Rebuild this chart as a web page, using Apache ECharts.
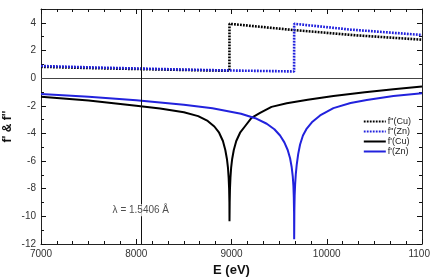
<!DOCTYPE html>
<html>
<head>
<meta charset="utf-8">
<script src="https://cdn.jsdelivr.net/npm/echarts@6/dist/echarts.min.js"></script>
<style>
  html, body { margin: 0; padding: 0; background: #fff; }
  #chart { width: 430px; height: 278px; }
</style>
</head>
<body>
<div id="chart"></div>
<script>
// f'' (absorption) - dotted lines, [E (eV), value]
var fppCu = [[7000, 0.82], [7500, 0.73], [8000, 0.66], [8500, 0.59], [8978, 0.53],
  [8979, 3.93], [9650, 3.48], [10300, 3.1], [11000, 2.78]];
var fppZn = [[7000, 0.88], [7500, 0.78], [8000, 0.7], [8500, 0.62], [9000, 0.55],
  [9500, 0.5], [9657, 0.48], [9658, 3.93], [10250, 3.51], [11000, 3.12]];

// f' (dispersion) - solid lines
var fpCu = [[7000, -1.35], [7500, -1.62], [8000, -2.0], [8250, -2.2], [8500, -2.47],
  [8650, -2.75], [8750, -3.1], [8820, -3.5], [8870, -3.95], [8910, -4.55], [8935, -5.2],
  [8952, -5.85], [8963, -6.5], [8970, -7.2], [8975, -8.0], [8978, -9.0], [8979, -10.35],
  [8981, -9.0], [8984, -8.0], [8989, -7.2], [8996, -6.5], [9007, -5.85], [9024, -5.2],
  [9050, -4.55], [9090, -3.95], [9140, -3.5], [9210, -2.88], [9300, -2.52], [9420, -2.08],
  [9580, -1.82], [9800, -1.56], [10070, -1.3], [10400, -1.02], [10700, -0.8], [11000, -0.6]];
var fpZn = [[7000, -1.15], [7500, -1.35], [8000, -1.6], [8500, -1.92], [8800, -2.18],
  [9100, -2.58], [9250, -2.9], [9370, -3.3], [9450, -3.7], [9510, -4.15], [9555, -4.65],
  [9590, -5.2], [9615, -5.8], [9632, -6.45], [9643, -7.1], [9650, -7.8], [9654, -8.6],
  [9657, -9.8], [9658, -11.65], [9660, -9.6], [9663, -8.5], [9668, -7.7], [9675, -6.95],
  [9685, -6.25], [9700, -5.5], [9720, -4.8], [9750, -4.15], [9790, -3.65], [9850, -3.15],
  [9930, -2.7], [10070, -2.17], [10250, -1.8], [10420, -1.58], [10700, -1.3], [11000, -1.09]];

var legendNames = ['f"(Cu)', 'f"(Zn)', "f'(Cu)", "f'(Zn)"];
var lambdaE = 8048;
var lambdaText = 'λ = 1.5406 Å';

var BLUE = '#2222dd';
var font = 'Liberation Sans, Arial, sans-serif';

var myChart = echarts.init(document.getElementById('chart'));

function lineSeries(name, data, color, dotted) {
  return {
    name: name,
    type: 'line',
    data: data,
    showSymbol: false,
    symbol: 'none',
    smooth: false,
    xAxisIndex: 0,
    yAxisIndex: 0,
    lineStyle: {
      color: color,
      width: dotted ? 2.6 : 2,
      type: dotted ? [1.8, 1.2] : 'solid',
      cap: 'butt'
    },
    itemStyle: { color: color },
    z: 3
  };
}

var series = [
  lineSeries(legendNames[0], fppCu, '#000', true),
  lineSeries(legendNames[1], fppZn, BLUE, true),
  lineSeries(legendNames[2], fpCu, '#000', false),
  lineSeries(legendNames[3], fpZn, BLUE, false)
];

// zero line and wavelength marker
series.push({
  type: 'line',
  data: [],
  silent: true,
  z: 2,
  markLine: {
    silent: true,
    symbol: 'none',
    label: { show: false },
    animation: false,
    data: [
      { yAxis: 0, lineStyle: { color: '#444', width: 1, type: 'solid' } },
      { xAxis: lambdaE, lineStyle: { color: '#111', width: 1, type: 'solid' } }
    ]
  }
});

// label sitting on the marker line
series.push({
  type: 'scatter',
  silent: true,
  z: 5,
  symbol: 'rect',
  symbolSize: 1,
  itemStyle: { color: 'rgba(0,0,0,0)' },
  data: [[lambdaE, -9.55]],
  label: {
    show: true,
    formatter: lambdaText,
    position: 'inside',
    color: '#222',
    fontFamily: font,
    fontSize: 10,
    backgroundColor: '#fff',
    padding: [1, 1]
  }
});

var axisText = {
  color: '#333', fontFamily: font, fontSize: 10,
  formatter: function (v) { return String(v); }
};

// ticks point into the plot (inside flag is ignored here, so flip with negative length)
function tickStyle() {
  return {
    axisLine: { show: true, onZero: false, lineStyle: { color: '#222', width: 1 } },
    axisTick: { show: true, inside: false, length: -5, lineStyle: { color: '#111', width: 1 } },
    minorTick: { show: true, length: -3, lineStyle: { color: '#111', width: 1 } },
    splitLine: { show: false }
  };
}

var xOpt = tickStyle();
xOpt.minorTick.splitNumber = 6;
var xTopOpt = tickStyle();
xTopOpt.minorTick.splitNumber = 6;
var yOpt = tickStyle();
yOpt.minorTick.splitNumber = 2;
var yRightOpt = tickStyle();
yRightOpt.minorTick.splitNumber = 2;

myChart.setOption({
  animation: false,
  backgroundColor: '#fff',
  grid: { left: 41, right: 8, top: 9, bottom: 34, containLabel: false, outerBoundsMode: 'none' },
  legend: {
    data: legendNames,
    orient: 'vertical',
    right: 14,
    top: 112,
    itemWidth: 22,
    itemHeight: 6,
    itemGap: 1,
    itemStyle: { opacity: 0 },
    textStyle: { color: '#222', fontFamily: font, fontSize: 9, padding: [0, 0, 0, -3] }
  },
  xAxis: [Object.assign(xOpt, {
    type: 'value',
    min: 7000,
    max: 11000,
    interval: 1000,
    name: 'E (eV)',
    nameLocation: 'middle',
    nameGap: 20,
    nameMoveOverlap: false,
    nameTextStyle: { fontFamily: font, fontSize: 13, fontWeight: 'bold', color: '#111' },
    axisLabel: Object.assign({ margin: 5 }, axisText)
  }), Object.assign(xTopOpt, {
    type: 'value',
    position: 'top',
    min: 7000,
    max: 11000,
    interval: 1000,
    axisLabel: { show: false }
  })],
  yAxis: [Object.assign(yOpt, {
    type: 'value',
    min: -12,
    max: 5,
    interval: 2,
    name: "f' & f''",
    nameLocation: 'middle',
    nameGap: 27,
    nameMoveOverlap: false,
    nameTextStyle: { fontFamily: font, fontSize: 12, fontWeight: 'bold', color: '#111' },
    axisLabel: Object.assign({ margin: 5, showMaxLabel: false }, axisText)
  }), Object.assign(yRightOpt, {
    type: 'value',
    position: 'right',
    min: -12,
    max: 5,
    interval: 2,
    axisLabel: { show: false }
  })],
  series: series
});
</script>
</body>
</html>
